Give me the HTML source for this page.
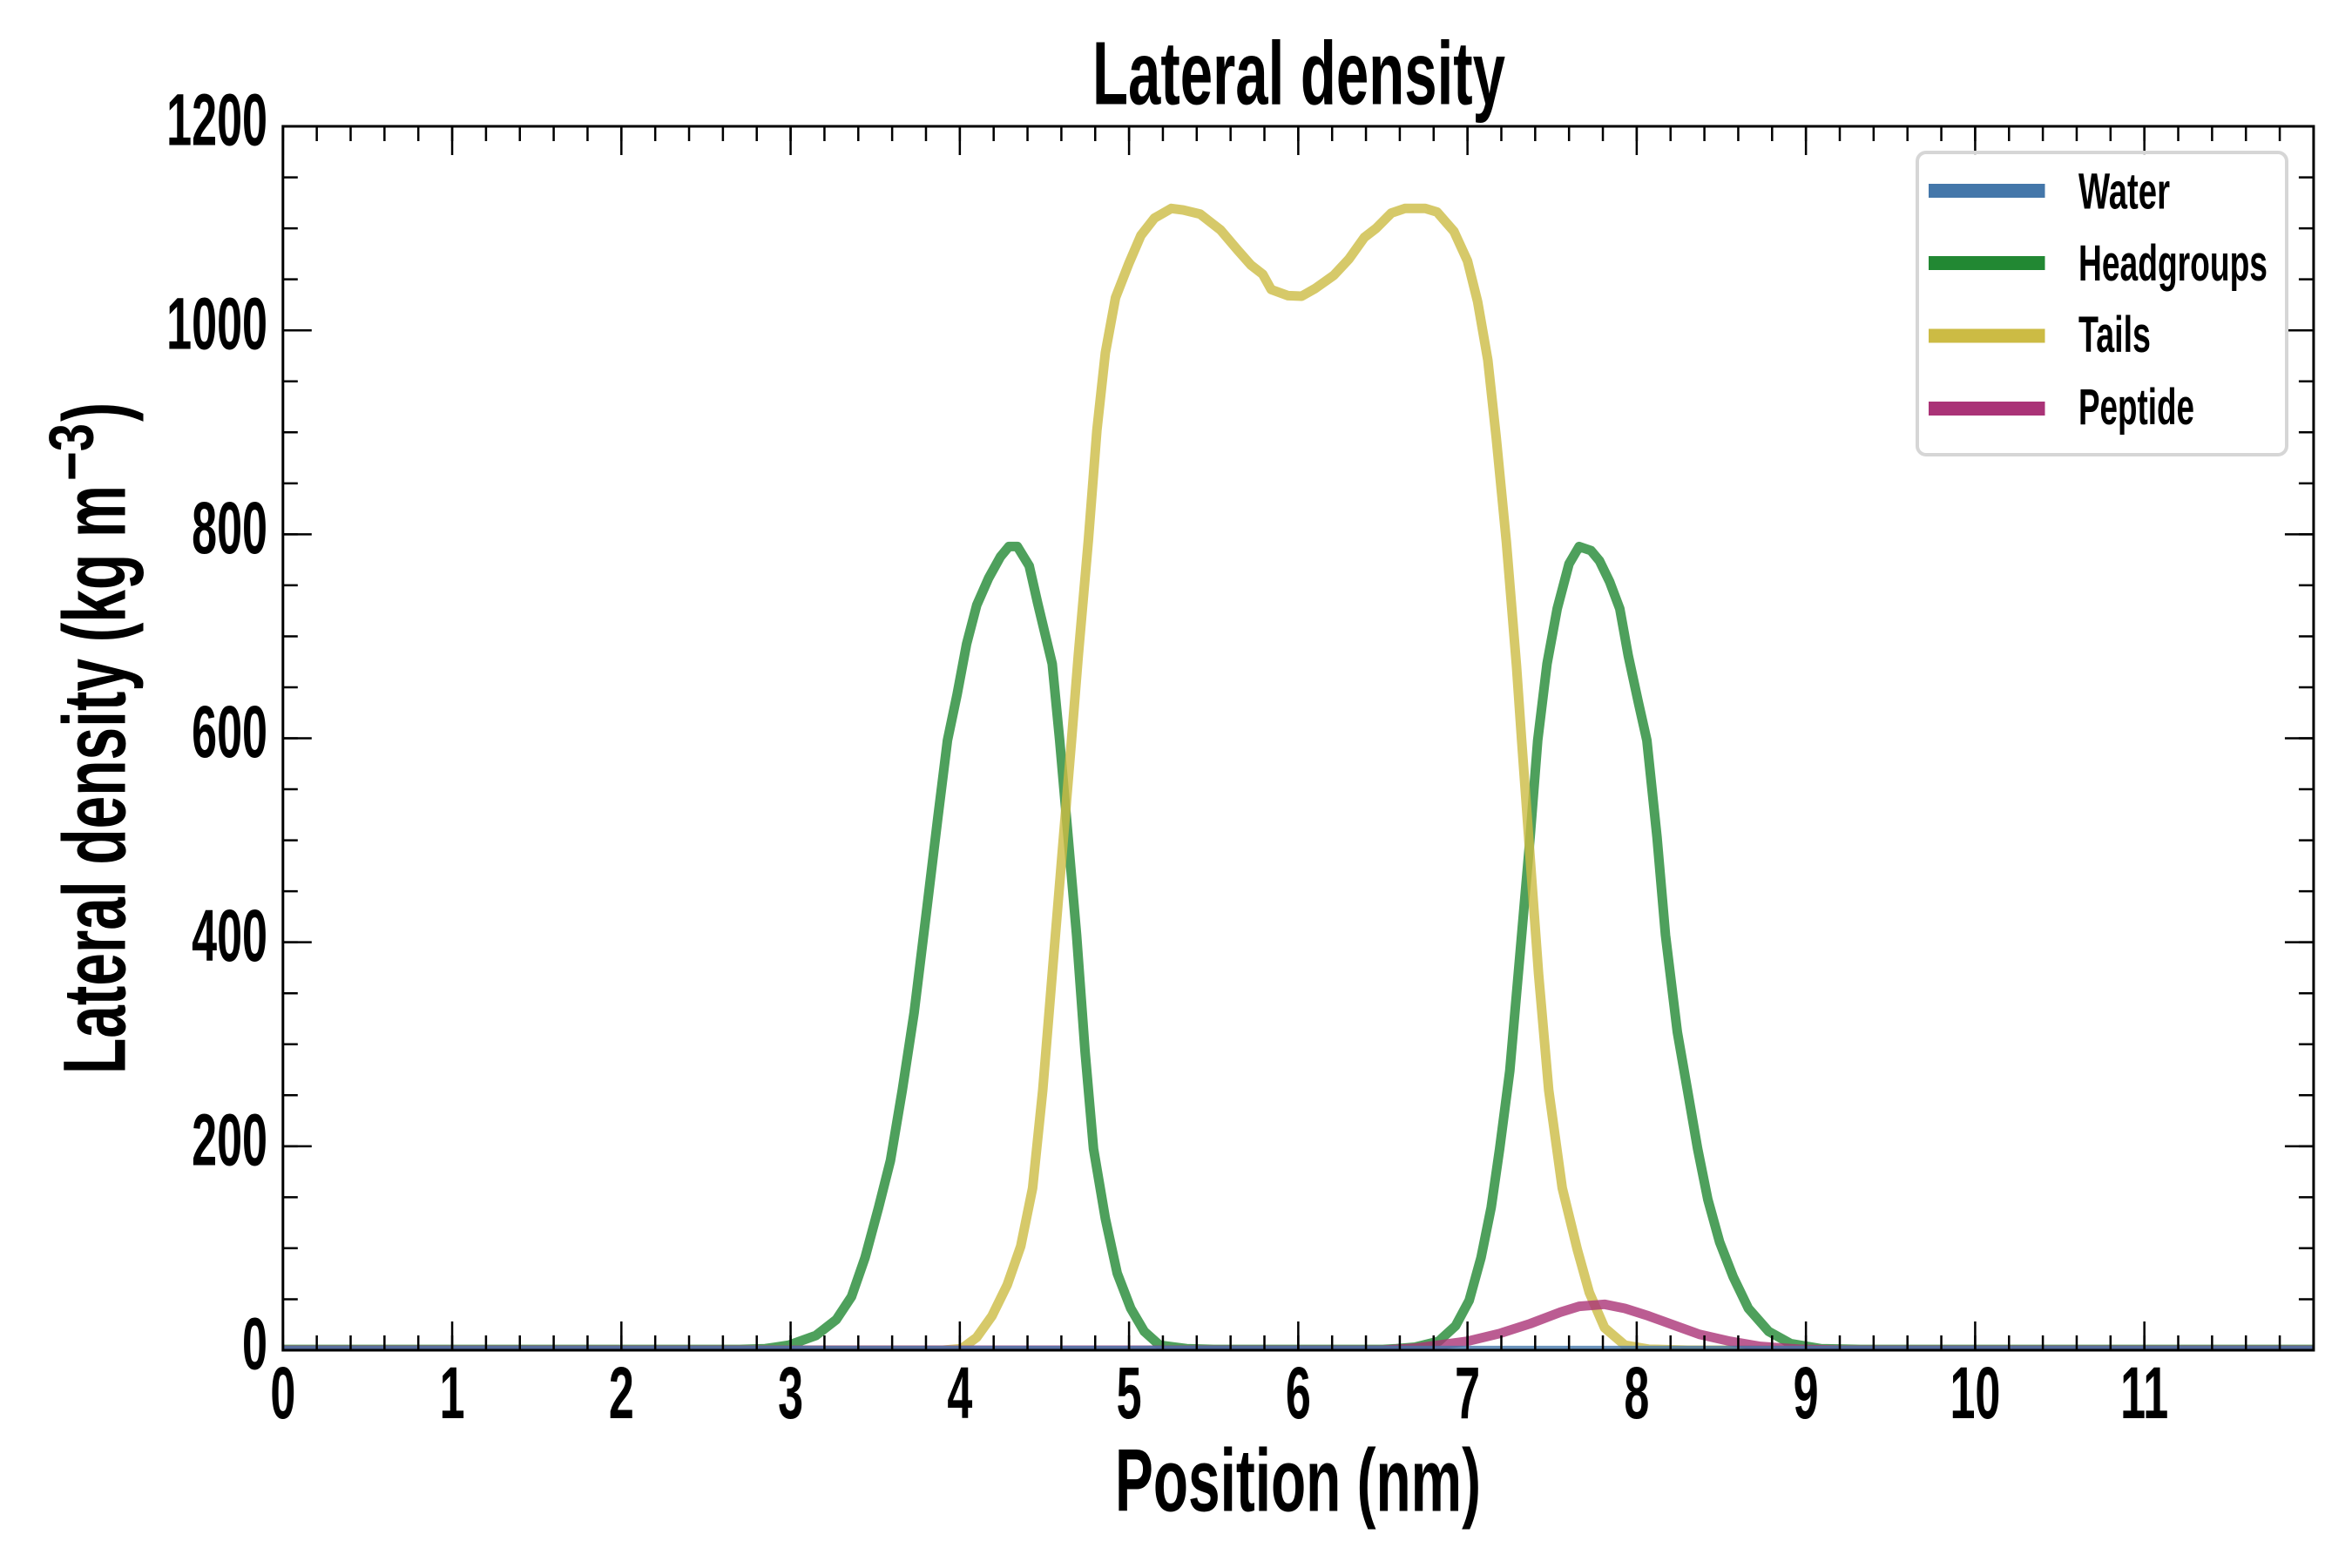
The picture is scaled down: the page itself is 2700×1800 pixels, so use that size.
<!DOCTYPE html>
<html>
<head>
<meta charset="utf-8">
<style>
  html, body { margin: 0; padding: 0; background: #ffffff; }
  svg { display: block; }
  text { font-family: "Liberation Sans", Arial, sans-serif; font-weight: bold; fill: #000; }
</style>
</head>
<body>
<svg width="2700" height="1800" viewBox="0 0 2700 1800" xmlns="http://www.w3.org/2000/svg">
  <defs>
    <clipPath id="plotclip">
      <rect x="324.8" y="145" width="2331.12" height="1405"/>
    </clipPath>
  </defs>
  <rect x="0" y="0" width="2700" height="1800" fill="#ffffff"/>

  <!-- Data series -->
  <g clip-path="url(#plotclip)">
    <g transform="translate(324.8,1550) scale(194.26,-1.1708)" fill="none" stroke-linejoin="round" stroke-linecap="butt">
      <!-- Headgroups -->
      <path vector-effect="non-scaling-stroke" stroke="#228833" stroke-opacity="0.8" stroke-width="11"
        d="M-0.1,0.8 L2.7,0.8 L2.85,1.5 L2.99,5 L3.15,14.5 L3.27,30 L3.36,52.6 L3.44,90.8 L3.52,140 L3.59,186 L3.66,255 L3.73,331 L3.80,426 L3.87,522 L3.927,598 L3.984,643 L4.04,692.5 L4.10,730.6 L4.17,757 L4.24,778 L4.29,788 L4.34,788 L4.41,769 L4.46,732.5 L4.546,673 L4.59,598 L4.64,503 L4.69,407 L4.74,293 L4.79,197.5 L4.86,129 L4.93,75.5 L5.01,41 L5.09,18.4 L5.18,5 L5.34,1.5 L5.5,0.8 L6.5,0.8 L6.58,1.5 L6.69,3 L6.83,8.8 L6.93,24 L7.01,48.8 L7.08,90.8 L7.14,140 L7.19,197.5 L7.25,274 L7.31,388 L7.37,503 L7.415,598 L7.47,673 L7.53,727 L7.60,771 L7.66,788 L7.73,784 L7.78,774 L7.84,753.5 L7.90,727 L7.95,681 L8.01,635 L8.06,598 L8.12,503 L8.17,407 L8.24,312 L8.30,255 L8.36,197.5 L8.42,148 L8.49,106 L8.57,72 L8.66,41 L8.78,18.4 L8.91,6.5 L9.09,1.5 L9.32,0.8 L12.1,0.8"/>
      <!-- Tails -->
      <path vector-effect="non-scaling-stroke" stroke="#CCBB44" stroke-opacity="0.8" stroke-width="11"
        d="M-0.1,0 L3.9,0 L4.01,1.5 L4.10,12.6 L4.19,33.6 L4.28,64 L4.36,102 L4.43,159 L4.49,255 L4.546,369 L4.603,484 L4.66,598 L4.70,681 L4.76,795 L4.81,902 L4.86,978 L4.92,1032 L5.00,1066 L5.07,1093 L5.15,1110 L5.25,1119.5 L5.32,1118 L5.42,1114 L5.54,1098.5 L5.64,1079 L5.72,1064 L5.79,1055 L5.84,1040 L5.94,1034 L6.02,1033.5 L6.10,1041 L6.21,1054 L6.30,1070 L6.39,1091 L6.46,1100 L6.55,1115 L6.63,1119.5 L6.75,1119.5 L6.82,1116 L6.92,1097 L7.00,1068 L7.06,1028 L7.12,971 L7.17,894.5 L7.23,792 L7.29,670 L7.32,598 L7.37,483.5 L7.42,369 L7.48,255 L7.56,159 L7.65,98 L7.72,56.5 L7.81,22 L7.93,5 L8.07,1 L8.3,0 L12.1,0"/>
      <!-- Peptide -->
      <path vector-effect="non-scaling-stroke" stroke="#AA3377" stroke-opacity="0.8" stroke-width="11"
        d="M-0.1,0 L6.5,0 L6.69,2 L7.00,8.8 L7.19,16.4 L7.37,26 L7.55,37.4 L7.66,43 L7.81,45 L7.93,41 L8.07,33.6 L8.23,24 L8.37,15.6 L8.55,8.8 L8.73,3.7 L8.96,1 L9.2,0 L12.1,0"/>
      <!-- Water -->
      <path vector-effect="non-scaling-stroke" stroke="#4477AA" stroke-opacity="0.8" stroke-width="11"
        d="M-0.1,-0.3 L12.1,-0.3"/>
    </g>
  </g>

  <!-- Ticks (inward, all sides) -->
  <g stroke="#000" fill="none">
    <!-- bottom minor / major -->
    <line x1="324.8" y1="1541.5" x2="2655.92" y2="1541.5" stroke-width="17" stroke-dasharray="2.5 36.352" stroke-dashoffset="1.25"/>
    <line x1="324.8" y1="1533.5" x2="2655.92" y2="1533.5" stroke-width="33" stroke-dasharray="2.5 191.76" stroke-dashoffset="1.25"/>
    <!-- top minor / major -->
    <line x1="324.8" y1="153.5" x2="2655.92" y2="153.5" stroke-width="17" stroke-dasharray="2.5 36.352" stroke-dashoffset="1.25"/>
    <line x1="324.8" y1="161.5" x2="2655.92" y2="161.5" stroke-width="33" stroke-dasharray="2.5 191.76" stroke-dashoffset="1.25"/>
    <!-- left minor / major -->
    <line x1="333.3" y1="1550" x2="333.3" y2="145" stroke-width="17" stroke-dasharray="2.5 56.04" stroke-dashoffset="1.25"/>
    <line x1="341.3" y1="1550" x2="341.3" y2="145" stroke-width="33" stroke-dasharray="2.5 231.66" stroke-dashoffset="1.25"/>
    <!-- right minor / major -->
    <line x1="2647.42" y1="1550" x2="2647.42" y2="145" stroke-width="17" stroke-dasharray="2.5 56.04" stroke-dashoffset="1.25"/>
    <line x1="2639.42" y1="1550" x2="2639.42" y2="145" stroke-width="33" stroke-dasharray="2.5 231.66" stroke-dashoffset="1.25"/>
  </g>

  <!-- Spines -->
  <rect x="324.8" y="145" width="2331.12" height="1405" fill="none" stroke="#000" stroke-width="3"/>

  <!-- Legend -->
  <rect x="2201" y="175" width="424" height="347" rx="10" ry="10" fill="#ffffff" fill-opacity="0.8" stroke="#d6d6d6" stroke-width="4"/>
  <g stroke-width="16">
    <line x1="2214" y1="219" x2="2347.5" y2="219" stroke="#4477AA"/>
    <line x1="2214" y1="302" x2="2347.5" y2="302" stroke="#228833"/>
    <line x1="2214" y1="385.5" x2="2347.5" y2="385.5" stroke="#CCBB44"/>
    <line x1="2214" y1="469" x2="2347.5" y2="469" stroke="#AA3377"/>
  </g>
  <g font-size="58">
    <text x="2386" y="239.4" textLength="105" lengthAdjust="spacingAndGlyphs">Water</text>
    <text x="2386" y="321.8" textLength="217" lengthAdjust="spacingAndGlyphs">Headgroups</text>
    <text x="2386" y="404" textLength="83" lengthAdjust="spacingAndGlyphs">Tails</text>
    <text x="2386" y="486.8" textLength="133" lengthAdjust="spacingAndGlyphs">Peptide</text>
  </g>

  <!-- X tick labels -->
  <g font-size="84" text-anchor="middle">
    <text transform="translate(324.8,1628) scale(0.62,1)">0</text>
    <text transform="translate(519.06,1628) scale(0.62,1)">1</text>
    <text transform="translate(713.32,1628) scale(0.62,1)">2</text>
    <text transform="translate(907.58,1628) scale(0.62,1)">3</text>
    <text transform="translate(1101.84,1628) scale(0.62,1)">4</text>
    <text transform="translate(1296.1,1628) scale(0.62,1)">5</text>
    <text transform="translate(1490.36,1628) scale(0.62,1)">6</text>
    <text transform="translate(1684.62,1628) scale(0.62,1)">7</text>
    <text transform="translate(1878.88,1628) scale(0.62,1)">8</text>
    <text transform="translate(2073.14,1628) scale(0.62,1)">9</text>
    <text transform="translate(2267.4,1628) scale(0.62,1)">10</text>
    <text transform="translate(2461.66,1628) scale(0.62,1)">11</text>
  </g>

  <!-- Y tick labels -->
  <g font-size="84" text-anchor="end">
    <text transform="translate(307,1571.5) scale(0.62,1)">0</text>
    <text transform="translate(307,1337.3) scale(0.62,1)">200</text>
    <text transform="translate(307,1103.2) scale(0.62,1)">400</text>
    <text transform="translate(307,869) scale(0.62,1)">600</text>
    <text transform="translate(307,634.9) scale(0.62,1)">800</text>
    <text transform="translate(307,400.7) scale(0.62,1)">1000</text>
    <text transform="translate(307,166.5) scale(0.62,1)">1200</text>
  </g>

  <!-- Title -->
  <text x="1254" y="119.4" font-size="103" textLength="474" lengthAdjust="spacingAndGlyphs">Lateral density</text>

  <!-- X axis label -->
  <text x="1280" y="1734.6" font-size="102" textLength="420" lengthAdjust="spacingAndGlyphs">Position (nm)</text>

  <!-- Y axis label -->
  <g transform="translate(143.6,1233) rotate(-90)">
    <text x="0" y="0" font-size="102" textLength="676" lengthAdjust="spacingAndGlyphs">Lateral density (kg m</text>
    <text x="681" y="-37" font-size="72" textLength="66" lengthAdjust="spacingAndGlyphs">−3</text>
    <text x="749" y="0" font-size="102" textLength="22" lengthAdjust="spacingAndGlyphs">)</text>
  </g>
</svg>
</body>
</html>
